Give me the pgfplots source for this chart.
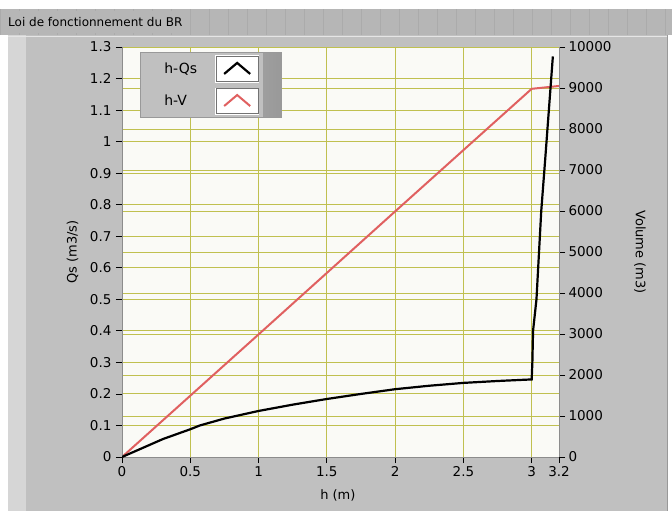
\documentclass[border=0pt]{standalone}
\usepackage{pgfplots}
\pgfplotsset{compat=1.18}
\usepackage{fontspec}
\setmainfont{DejaVu Sans}

\definecolor{panel}{RGB}{192,192,192}
\definecolor{titlebar}{RGB}{182,182,182}
\definecolor{gridy}{RGB}{192,192,80}
\definecolor{plotbg}{RGB}{250,250,246}
\definecolor{curvered}{RGB}{224,96,96}

\begin{document}
\begin{tikzpicture}
\path[use as bounding box] (0pt,0pt) rectangle (672pt,-515pt);
\fill[white] (0pt,0pt) rectangle (672pt,-515pt);
% title bar
\fill[titlebar] (0pt,-9pt) rectangle (672pt,-35pt);
\foreach \x in {0,19,...,672}
  \draw[black!33, line width=0.5pt] (\x pt,-9pt) -- (\x pt,-35pt);
\fill[titlebar] (2pt,-11pt) rectangle (180pt,-33pt);
\node[anchor=west, inner sep=0pt, font=\fontsize{12}{14}\selectfont] at (8pt,-22pt) {Loi de fonctionnement du BR};
% panel
\fill[panel] (8pt,-35pt) rectangle (668pt,-511pt);
\fill[black!16] (8pt,-35pt) rectangle (26pt,-511pt);
\draw[black!10, line width=1pt] (8pt,-36pt) -- (668pt,-36pt);
\draw[black!40, line width=1pt] (667.5pt,-35pt) -- (667.5pt,-511pt);

% right axis: volume, also carries background and grid
\begin{axis}[
    at={(122pt,-457pt)}, anchor=south west,
    scale only axis, width=437pt, height=410pt,
    xmin=0, xmax=3.2, ymin=0, ymax=10000,
    axis y line*=right, axis x line*=bottom,
    axis line style={draw=black!45},
    axis background/.style={fill=plotbg},
    xtick={0,0.5,1,1.5,2,2.5,3,3.2},
    xticklabels={0,0.5,1,1.5,2,2.5,3,3.2},
    ytick={0,1000,2000,3000,4000,5000,6000,7000,8000,9000,10000},
    scaled y ticks=false,
    /pgf/number format/set thousands separator={},
    /pgf/number format/assume math mode=true,
    tick align=outside, major tick length=6pt,
    tick style={black, line width=0.8pt},
    xmajorgrids, ymajorgrids,
    major grid style={gridy, line width=1pt},
    extra y ticks={769.23,1538.46,2307.69,3076.92,3846.15,4615.38,5384.62,6153.85,6923.08,7692.31,8461.54,9230.77},
    extra y tick labels={},
    extra y tick style={major tick length=0pt, grid=major},
    tick label style={font=\fontsize{13.5}{15}\selectfont},
    label style={font=\fontsize{13}{15}\selectfont},
    xlabel={h (m)},
    xlabel style={at={(axis description cs:0.494,-0.093)}, anchor=center},
    ylabel={Volume (m3)},
    ylabel style={at={(axis description cs:1.185,0.5)}, anchor=center, rotate=180},
    yticklabel style={xshift=0pt},
]
\addplot[color=curvered, line width=2pt] coordinates {
    (0,0) (1,2990) (2,5990) (3,8980) (3.2,9050)
};
\end{axis}

% left axis: discharge
\begin{axis}[
    at={(122pt,-457pt)}, anchor=south west,
    scale only axis, width=437pt, height=410pt,
    xmin=0, xmax=3.2, ymin=0, ymax=1.3,
    axis y line*=left, hide x axis,
    axis line style={draw=black!45},
    ytick={0,0.1,0.2,0.3,0.4,0.5,0.6,0.7,0.8,0.9,1,1.1,1.2,1.3},
    /pgf/number format/assume math mode=true,
    tick align=outside, major tick length=6pt,
    tick style={black, line width=0.8pt},
    tick label style={font=\fontsize{13.5}{15}\selectfont},
    label style={font=\fontsize{13}{15}\selectfont},
    ylabel={Qs (m3/s)},
    ylabel style={at={(axis description cs:-0.113,0.5)}, anchor=center},
    yticklabel style={xshift=-1pt},
    legend plot pos=right,
    legend cell align=left,
    legend image code/.code={
        \fill[white] (0pt,-12.5pt) rectangle (42pt,12.5pt);
        \draw[black!55, line width=0.6pt] (0pt,-12.5pt) rectangle (42pt,12.5pt);
        \draw[#1] (8pt,-5pt) -- (21pt,6pt) -- (34pt,-5pt);
    },
    legend style={
        at={(axis description cs:0.041,0.988)}, anchor=north west,
        fill=panel, draw=black!40, line width=0.8pt,
        font=\fontsize{14}{16}\selectfont,
        inner xsep=22pt, inner ysep=3pt,
        row sep=5pt,
        /tikz/every odd column/.append style={column sep=16pt},
        path picture={
            \fill[left color=panel, right color=black!40]
                ([xshift=-18pt]path picture bounding box.north east)
                rectangle (path picture bounding box.south east);
            \draw[white!85!black, line width=1.5pt]
                (path picture bounding box.south west)
                -- (path picture bounding box.north west)
                -- ([xshift=-18pt]path picture bounding box.north east);
        },
    },
]
\addplot[color=black, line width=2.2pt] coordinates {
    (0,0) (0.1,0.019) (0.3,0.057) (0.5,0.088) (0.57,0.10) (0.75,0.122)
    (1,0.146) (1.25,0.166) (1.5,0.184) (1.75,0.200) (2,0.215)
    (2.25,0.226) (2.5,0.235) (2.75,0.241) (3.0,0.246)
    (3.005,0.30) (3.01,0.40) (3.035,0.50) (3.07,0.78) (3.1,0.95) (3.155,1.27)
};
\addlegendentry{h-Qs}
\addlegendimage{color=curvered, line width=2pt}
\addlegendentry{h-V}
\end{axis}
\end{tikzpicture}
\end{document}
